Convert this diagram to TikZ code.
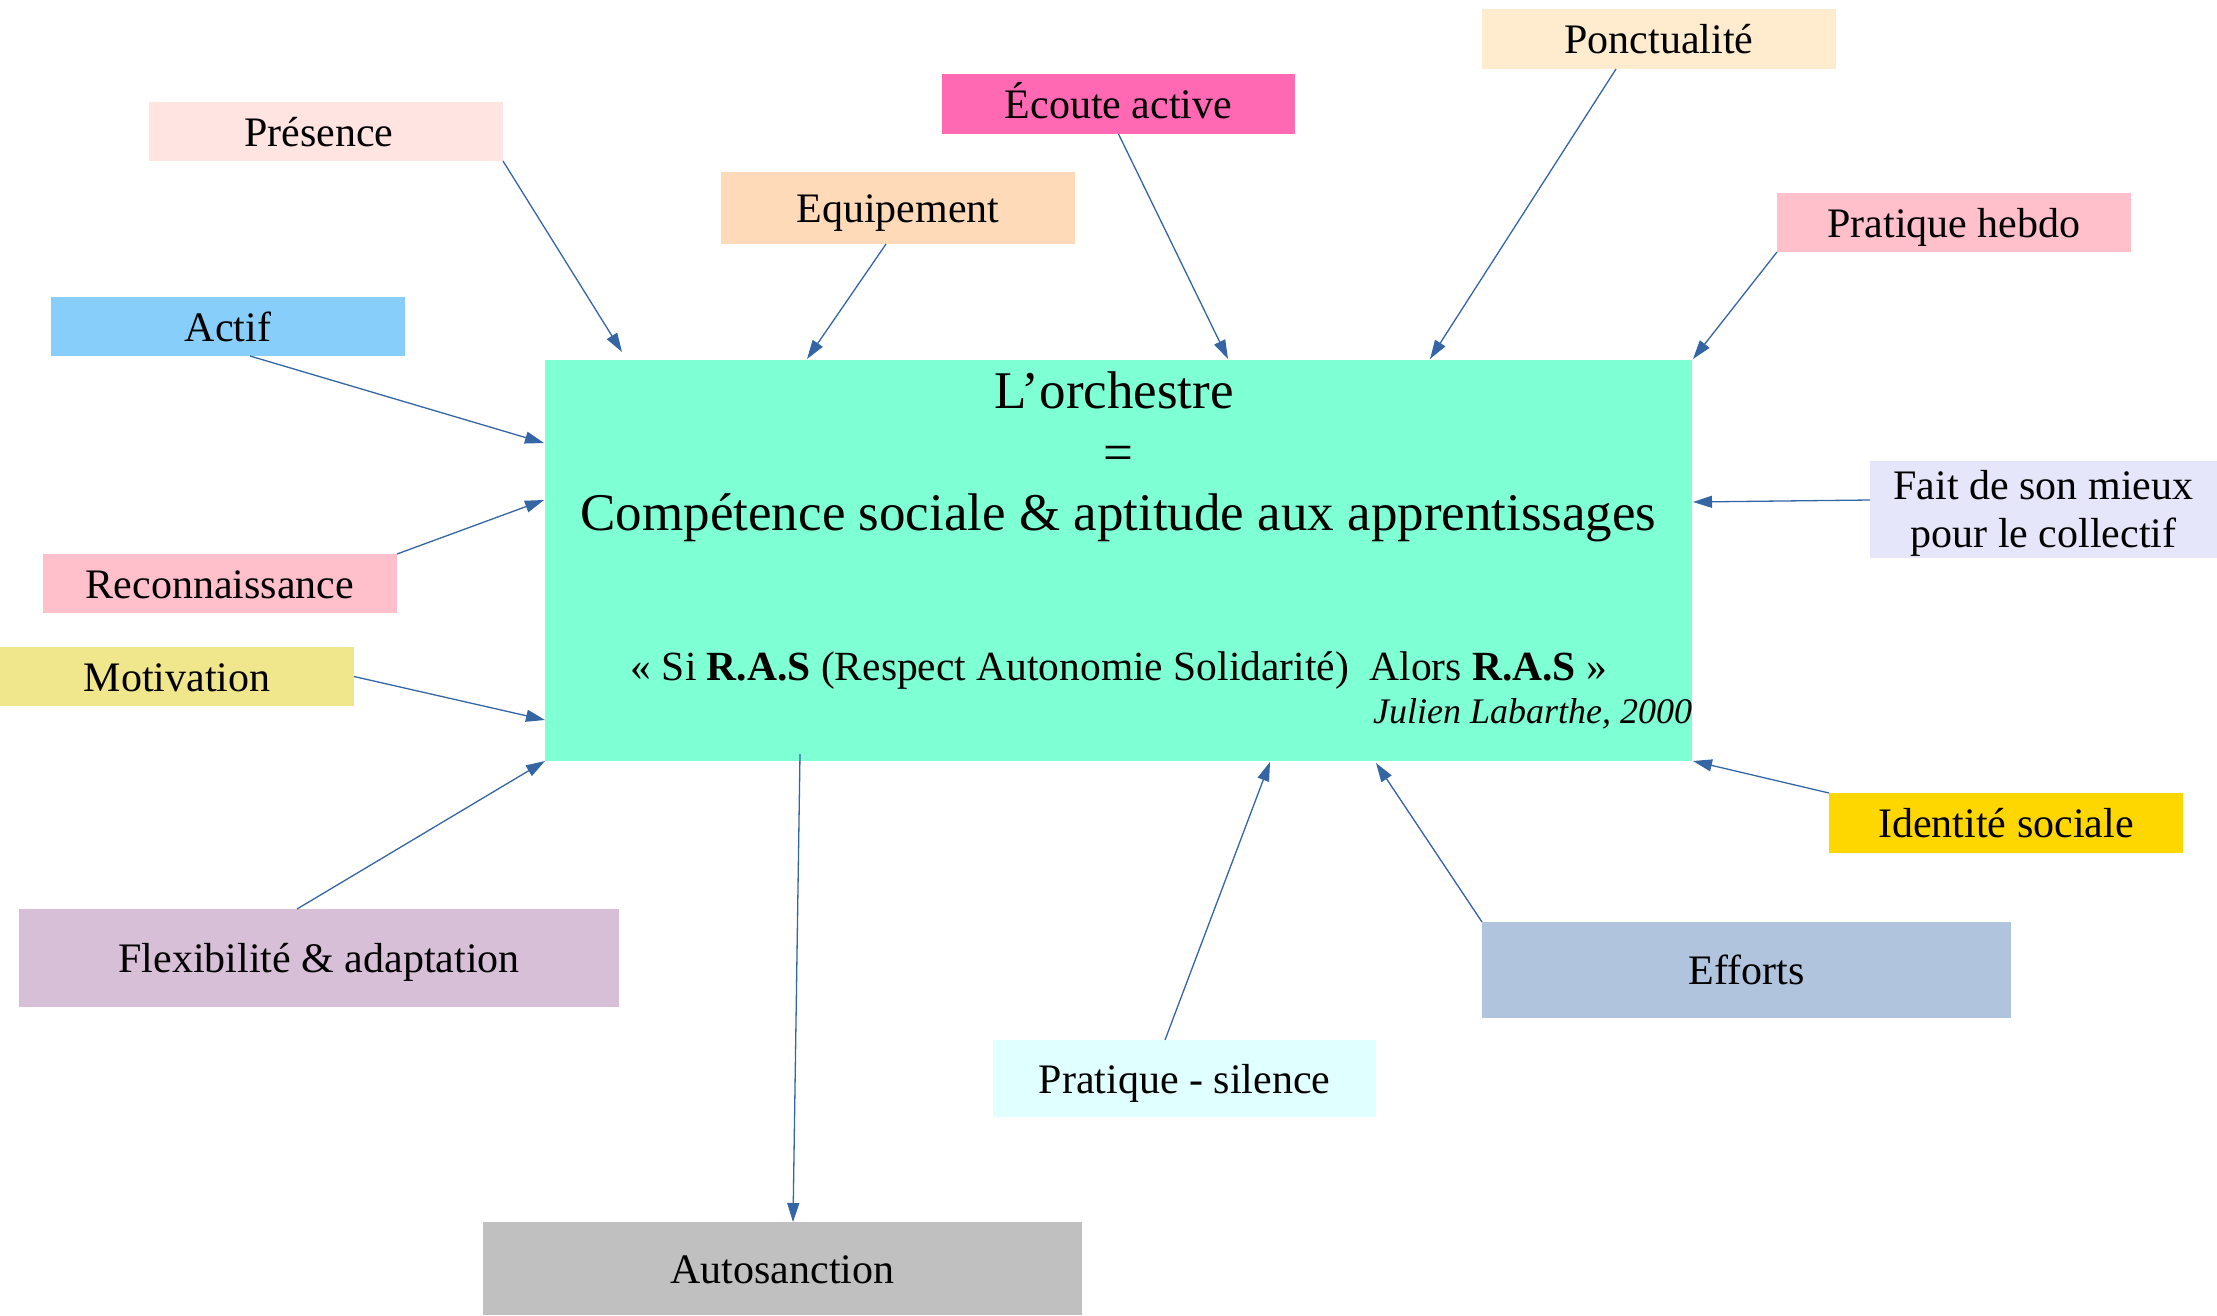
\documentclass[tikz,border=0pt]{standalone}
\usepackage{fontspec}
\setmainfont{Liberation Serif}
\usetikzlibrary{arrows.meta,calc}
\definecolor{arr}{RGB}{52,101,164}
\definecolor{cPres}{HTML}{FFE4E1}
\definecolor{cEquip}{HTML}{FFDAB9}
\definecolor{cEcoute}{HTML}{FF69B4}
\definecolor{cPonct}{HTML}{FFEBCD}
\definecolor{cHebdo}{HTML}{FFC0CB}
\definecolor{cActif}{HTML}{87CEFA}
\definecolor{cMain}{HTML}{7FFFD4}
\definecolor{cMieux}{HTML}{E6E6FA}
\definecolor{cRecon}{HTML}{FFC0CB}
\definecolor{cMotiv}{HTML}{F0E68C}
\definecolor{cIdent}{HTML}{FFD700}
\definecolor{cFlex}{HTML}{D8BFD8}
\definecolor{cEfforts}{HTML}{B0C4DE}
\definecolor{cSilence}{HTML}{E0FFFF}
\definecolor{cAuto}{HTML}{C0C0C0}
\begin{document}
\begin{tikzpicture}[x=1pt,y=-1pt,
  lab/.style={inner sep=0pt, outer sep=0pt, font=\fontsize{42}{47}\selectfont, text height=29pt, text depth=0pt},
  lab2/.style={inner sep=0pt, outer sep=0pt, font=\fontsize{42}{47}\selectfont, align=center},
  mtext/.style={inner sep=0pt, outer sep=0pt},
  conn/.style={draw=arr, line width=1.3pt, -{Triangle[length=19pt,width=12pt]}}]
\useasboundingbox (0,0) rectangle (2217,1315);
% central box
\node[fill=cMain, inner sep=0pt, outer sep=0pt, minimum width=1147pt, minimum height=401pt] (main) at (1118.5,560.5) {};
\node[mtext, anchor=base, font=\fontsize{53}{60}\selectfont] (t1) at (1114,408) {L’orchestre};
\node[mtext, anchor=base, font=\fontsize{53}{60}\selectfont] (t2) at (1118.5,470) {=};
\node[mtext, anchor=base, font=\fontsize{53}{60}\selectfont] (t3) at (1118.5,530) {Compétence sociale \& aptitude aux apprentissages};
\node[mtext, anchor=base, font=\fontsize{41.5}{47}\selectfont] (t4) at (1119,680) {« Si \textbf{R.A.S} (Respect Autonomie Solidarité)\hspace{0.5em}Alors \textbf{R.A.S} »};
\node[mtext, anchor=base east, font=\fontsize{36}{42}\selectfont\itshape] (t5) at (1692,723) {Julien Labarthe, 2000};
% satellite boxes
\node[lab, fill=cPres, minimum width=354pt, minimum height=59pt] (pres) at (326,131.5) {\hspace*{-14pt}Présence};
\node[lab, fill=cEquip, minimum width=354pt, minimum height=72pt] (equip) at (898,208) {Equipement};
\node[lab, fill=cEcoute, minimum width=353pt, minimum height=60pt] (ecoute) at (1118.5,104) {Écoute active};
\node[lab, fill=cPonct, minimum width=354pt, minimum height=60pt] (ponct) at (1659,39) {Ponctualité};
\node[lab, fill=cHebdo, minimum width=354pt, minimum height=59pt] (hebdo) at (1954,222.5) {Pratique hebdo};
\node[lab, fill=cActif, minimum width=354pt, minimum height=59pt] (actif) at (228,326.5) {Actif};
\node[lab2, fill=cMieux, minimum width=347pt, minimum height=97pt] (mieux) at (2043.5,509.5) {\raisebox{-5pt}[\height][\depth]{\begin{tabular}{@{}c@{}}Fait de son mieux\\[1pt]pour le collectif\end{tabular}}};
\node[lab, fill=cRecon, minimum width=354pt, minimum height=59pt] (recon) at (220,583.5) {Reconnaissance};
\node[lab, fill=cMotiv, minimum width=354pt, minimum height=59pt] (motiv) at (177,676.5) {Motivation};
\node[lab, fill=cIdent, minimum width=354pt, minimum height=60pt] (ident) at (2006,823) {Identité sociale};
\node[lab, fill=cFlex, minimum width=600pt, minimum height=98pt] (flex) at (319,958) {Flexibilité \& adaptation};
\node[lab, fill=cEfforts, minimum width=529pt, minimum height=96pt] (efforts) at (1746.5,970) {Efforts};
\node[lab, fill=cSilence, minimum width=383pt, minimum height=77pt] (silence) at (1184.5,1078.5) {Pratique - silence};
\node[lab, fill=cAuto, minimum width=599pt, minimum height=93pt] (auto) at (782.5,1268.5) {Autosanction};
% connectors
\draw[conn] (pres.south east) -- ($(main.north west)+(77,-8)$);
\draw[conn] ($(equip.south)+(-12,0)$) -- ($(main.north west)+(262,-1)$);
\draw[conn] (ecoute.south) -- ($(main.north west)+(683,-1)$);
\draw[conn] ($(ponct.south)+(-43,0)$) -- ($(main.north west)+(885,-1)$);
\draw[conn] (hebdo.south west) -- ($(main.north east)+(1,-1)$);
\draw[conn] ($(actif.south)+(22,0)$) -- ($(main.north west)+(-1,83)$);
\draw[conn] (recon.north east) -- ($(main.north west)+(-1,140)$);
\draw[conn] (motiv.east) -- ($(main.north west)+(0,360)$);
\draw[conn] ($(flex.north)+(-22,0)$) -- (main.south west);
\draw[conn] ($(mieux.west)+(0,-9.5)$) -- ($(main.north east)+(1,142)$);
\draw[conn] (ident.north west) -- ($(main.south east)+(1,0)$);
\draw[conn] (efforts.north west) -- ($(main.south west)+(831,2)$);
\draw[conn] ($(silence.north)+(-19.5,0)$) -- ($(main.south west)+(725,1)$);
\draw[conn] ($(main.south west)+(255,-7)$) -- ($(auto.north)+(10.5,0)$);
\end{tikzpicture}
\end{document}
